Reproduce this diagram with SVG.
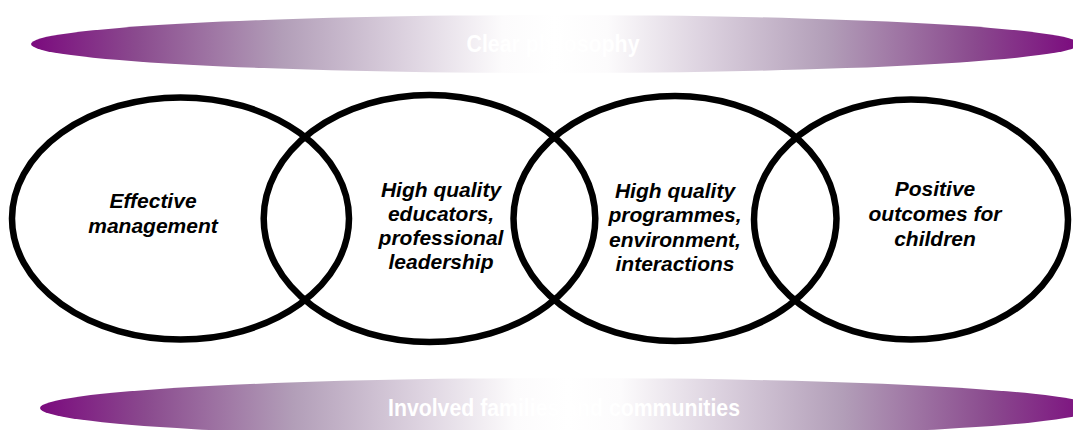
<svg xmlns="http://www.w3.org/2000/svg" width="1073" height="430" viewBox="0 0 1073 430">
<defs>
<linearGradient id="band" x1="0" y1="0" x2="1" y2="0">
<stop offset="0" stop-color="#7B0A7E"/>
<stop offset="0.1" stop-color="#8A4A8E"/>
<stop offset="0.24" stop-color="#B29EB8"/>
<stop offset="0.36" stop-color="#DDD3E0"/>
<stop offset="0.45" stop-color="#FCFBFC"/>
<stop offset="0.5" stop-color="#FFFFFF"/>
<stop offset="0.55" stop-color="#FCFBFC"/>
<stop offset="0.64" stop-color="#DDD3E0"/>
<stop offset="0.76" stop-color="#B29EB8"/>
<stop offset="0.9" stop-color="#8A4A8E"/>
<stop offset="1" stop-color="#7B0A7E"/>
</linearGradient>
<style>
.ring{fill:none;stroke:#000;stroke-width:6.5}
.lbl{font-family:"Liberation Sans",Arial,sans-serif;font-weight:bold;font-style:italic;font-size:21px;fill:#000;text-anchor:middle}
.band{fill:url(#band)}
.btxt{font-family:"Liberation Sans",Arial,sans-serif;font-weight:bold;font-size:24px;fill:#fff;text-anchor:middle}
</style>
</defs>
<rect width="1073" height="430" fill="#fff"/>
<g id="philosophy">
<ellipse class="band" cx="555" cy="44" rx="524" ry="29"/>
<text class="btxt" x="553" y="52" textLength="173" lengthAdjust="spacingAndGlyphs">Clear philosophy</text>
</g>
<g id="families">
<ellipse class="band" cx="568" cy="408" rx="528" ry="30"/>
<text class="btxt" x="564" y="416" textLength="352" lengthAdjust="spacingAndGlyphs">Involved families and communities</text>
</g>
<g id="connectors"></g>
<g id="management">
<ellipse class="ring" cx="180.5" cy="218.5" rx="168.5" ry="121"/>
<text class="lbl" x="153"><tspan x="153" y="208">Effective</tspan><tspan x="153" y="233">management</tspan></text>
</g>
<g id="educators">
<ellipse class="ring" cx="429.5" cy="218.5" rx="165.8" ry="123.5"/>
<text class="lbl"><tspan x="441" y="197">High quality</tspan><tspan x="441" y="221">educators,</tspan><tspan x="441" y="245">professional</tspan><tspan x="441" y="269">leadership</tspan></text>
</g>
<g id="programmes">
<ellipse class="ring" cx="675" cy="218.5" rx="161.5" ry="122.5"/>
<text class="lbl"><tspan x="675" y="198">High quality</tspan><tspan x="675" y="222">programmes,</tspan><tspan x="675" y="247">environment,</tspan><tspan x="675" y="271">interactions</tspan></text>
</g>
<g id="outcomes">
<ellipse class="ring" cx="911" cy="219.5" rx="157" ry="120"/>
<text class="lbl"><tspan x="935" y="196">Positive</tspan><tspan x="935" y="221">outcomes for</tspan><tspan x="935" y="246">children</tspan></text>
</g>
</svg>
